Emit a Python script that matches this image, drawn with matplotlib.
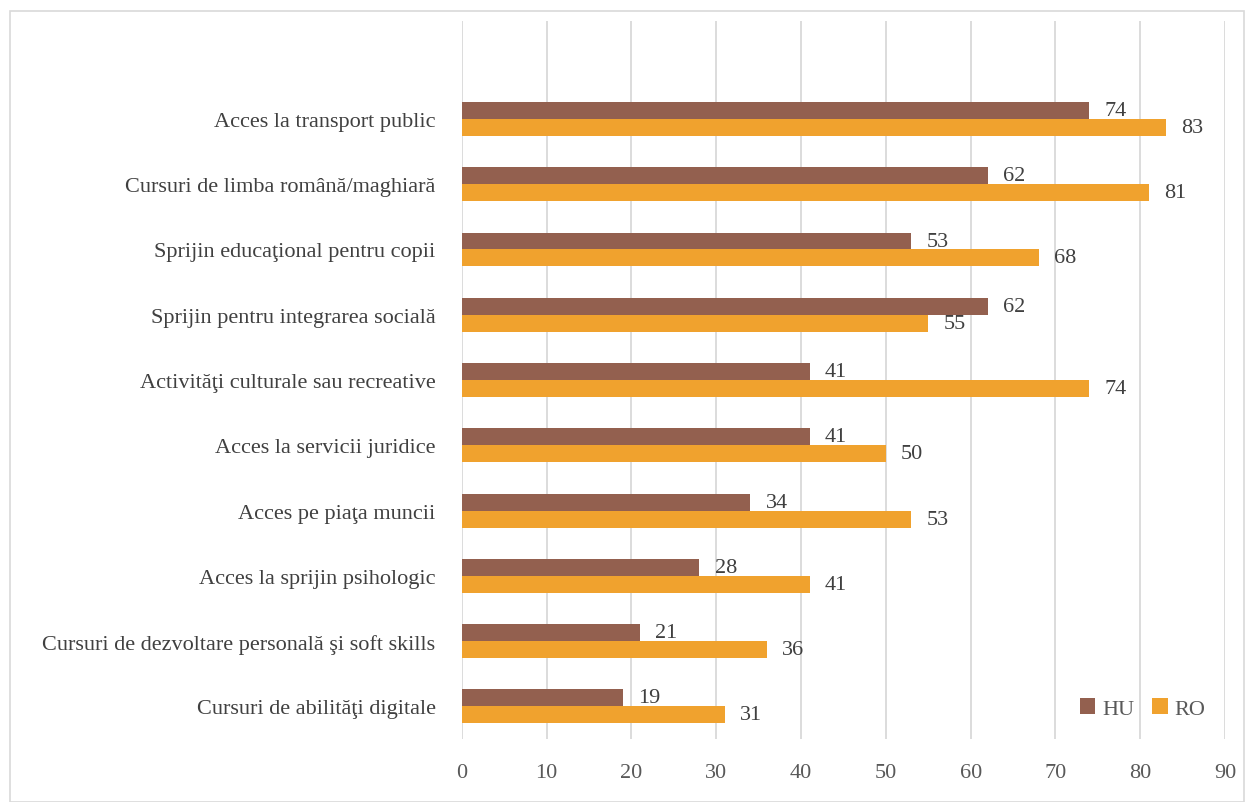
import matplotlib
matplotlib.use('Agg')
import matplotlib.pyplot as plt
import numpy as np
from matplotlib.patches import Rectangle

plt.rcParams['font.family'] = ['Liberation Serif', 'DejaVu Serif']

categories = [
    'Acces la transport public',
    'Cursuri de limba română/maghiară',
    'Sprijin educaţional pentru copii',
    'Sprijin pentru integrarea socială',
    'Activităţi culturale sau recreative',
    'Acces la servicii juridice',
    'Acces pe piaţa muncii',
    'Acces la sprijin psihologic',
    'Cursuri de dezvoltare personală şi soft skills',
    'Cursuri de abilităţi digitale',
]
hu = [74, 62, 53, 62, 41, 41, 34, 28, 21, 19]
ro = [83, 81, 68, 55, 74, 50, 53, 41, 36, 31]
ticks = list(range(0, 100, 10))

hu_color = '#93604F'
ro_color = '#F0A22E'

fig = plt.figure(figsize=(12.45, 8.03), dpi=100)
# cadru exterior
fig.patches.append(Rectangle((0.008, 0.0), 0.991, 0.985, transform=fig.transFigure,
                             fill=False, edgecolor='#D9D9D9', linewidth=1.2))
ax = fig.add_axes([0.371, 0.0785, 0.613, 0.894])

n = len(categories)
y = np.arange(n)[::-1]
h = 0.26
ax.barh(y + h / 2, hu, height=h, color=hu_color, label='HU')
ax.barh(y - h / 2, ro, height=h, color=ro_color, label='RO')

for yi, v in zip(y, hu):
    ax.text(v + 1.8, yi + h / 2, str(v), va='center', ha='left', fontsize=16, color='#404040')
for yi, v in zip(y, ro):
    ax.text(v + 1.8, yi - h / 2, str(v), va='center', ha='left', fontsize=16, color='#404040')

ax.set_xlim(0, 90)
ax.set_ylim(-0.5, n + 0.5)
ax.set_xticks(ticks)
ax.set_xticklabels([str(t) for t in ticks], fontsize=16, color='#595959')
ax.set_yticks(y)
ax.set_yticklabels(categories, fontsize=16, color='#404040')
ax.tick_params(axis='both', length=0)
ax.tick_params(axis='x', pad=17)
ax.tick_params(axis='y', pad=19)
ax.xaxis.grid(True, color='#D9D9D9', linewidth=1.3)
ax.set_axisbelow(True)
for s in ax.spines.values():
    s.set_visible(False)

ax.legend(loc='lower right', ncol=2, frameon=False, fontsize=16, handlelength=0.7,
          handleheight=0.7, handletextpad=0.3, columnspacing=0.8,
          bbox_to_anchor=(1.0, 0.0), labelcolor='#595959')

fig.savefig('out.png', dpi=100)
